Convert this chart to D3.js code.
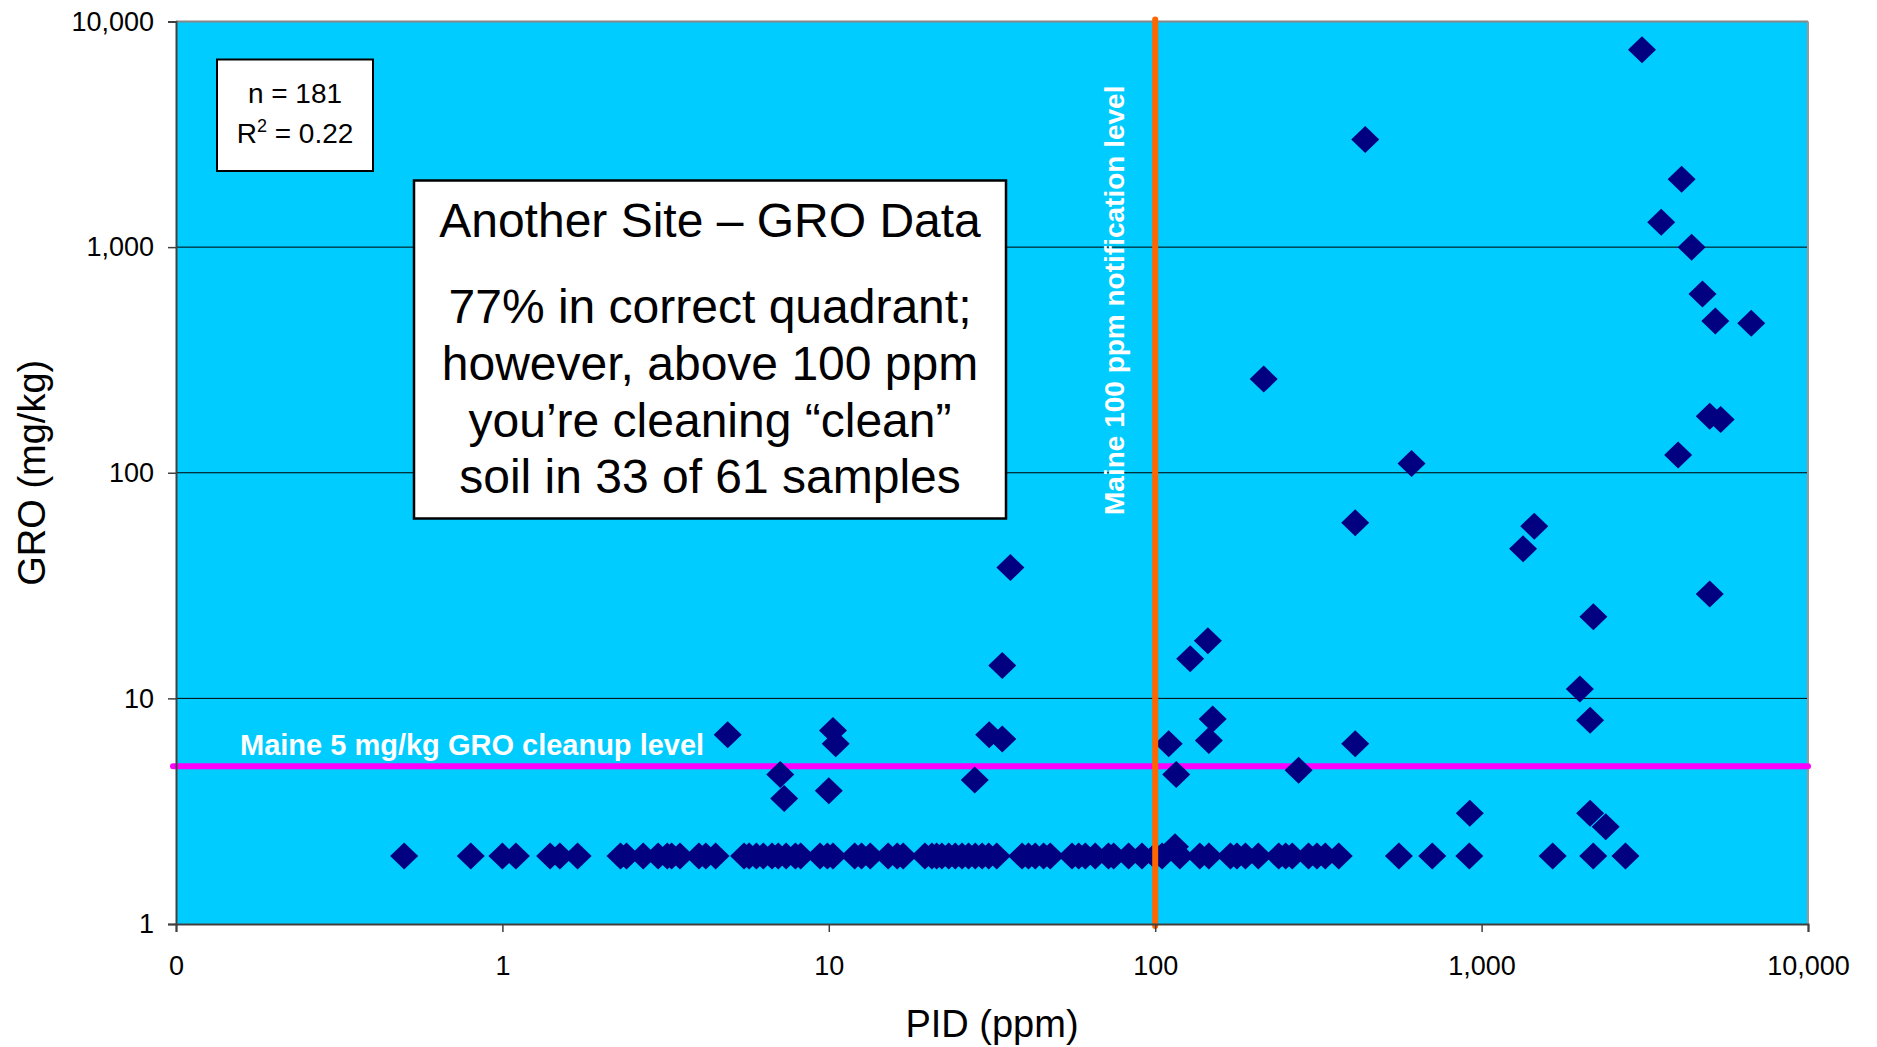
<!DOCTYPE html>
<html>
<head>
<meta charset="utf-8">
<script src="https://cdn.jsdelivr.net/npm/d3@7"></script>
<style>
  body { margin: 0; background: #fff; }
  svg { display: block; font-family: "Liberation Sans", Arial, sans-serif; }
</style>
</head>
<body>
<svg id="chart"></svg>
<script>
//  tick values and labels
const xTickVals = [0.1, 1, 10, 100, 1000, 10000];
const xTickLabels = ["0", "1", "10", "100", "1,000", "10,000"];
const yTickVals = [1, 10, 100, 1000, 10000];
const yTickLabels = ["1", "10", "100", "1,000", "10,000"];

//  reference levels
const pidNotify = 100;   // ppm
const groCleanup = 5;    // mg/kg

//  samples reported as non-detect (plotted at GRO = 2)
const ndLevel = 2;
const ndPid = [
  0.5, 0.8, 1.0, 1.1, 1.4, 1.5, 1.7, 2.3, 2.4, 2.7, 3.0, 3.2, 3.3, 3.5, 4.0, 4.2, 4.5,
  5.5, 5.7, 6.0, 6.3, 6.7, 7.0, 7.4, 7.9, 8.2, 9.4, 9.9, 10.3, 12.0, 12.6, 13.4,
  15.2, 16.2, 16.9, 19.7, 20.7, 21.4, 22.2, 23.3, 24.4, 25.6, 26.8, 28.1, 29.5,
  30.9, 32.7, 39.1, 40.9, 42.9, 45.5, 47.7,
  55.6, 58.3, 61.1, 65.5, 71.9, 74.6, 82.9, 91.1, 100, 105, 119, 137, 146, 170,
  178, 189, 207, 239, 251, 263, 295, 313, 332, 365,
  558, 706, 917, 1651, 2198, 2759
];

//  detected samples
const detPid = [
  3100, 440, 4100, 3550, 4400, 4750, 5200, 6700, 215, 610, 4000, 5000, 5400, 5000,
  410, 1450, 1340, 2200, 2000, 2150, 410, 275, 920, 2150, 2400,
  4.9, 7.1, 7.3, 10.3, 10.5, 10, 31, 34, 28, 110, 116, 150, 146, 115, 34, 36, 128, 145
];
const detGro = [
  7500, 3000, 2000, 1290, 1000, 620, 470, 460, 260, 110, 120, 178, 172, 29,
  60, 58, 46, 23, 11, 8, 6.3, 4.8, 3.1, 3.1, 2.7,
  6.9, 4.6, 3.6, 7.2, 6.3, 3.9, 6.9, 6.6, 4.35, 6.3, 4.6, 8.1, 6.5, 2.2, 14, 38, 15, 18
];

const statLines = ["n = 181", "R", " = 0.22"];
const noteTitle = "Another Site \u2013 GRO Data";
const noteLines = [
  "77% in correct quadrant;",
  "however, above 100 ppm",
  "you\u2019re cleaning \u201cclean\u201d",
  "soil in 33 of 61 samples"
];

function draw_chart() {
  const w = 1877, h = 1047;
  const margin = ({top: 21.5, right: 69, bottom: 123, left: 176});
  const plotW = w - margin.left - margin.right;
  const plotH = h - margin.top - margin.bottom;

  const svg = d3.select("#chart").attr("width", w).attr("height", h);

  const x = d3.scaleLog().domain([0.1, 10000]).range([margin.left, margin.left + plotW]);
  const y = d3.scaleLog().domain([1, 10000]).range([margin.top + plotH, margin.top]);

  //  plot background
  svg.append("rect")
     .attr("x", margin.left).attr("y", margin.top)
     .attr("width", plotW).attr("height", plotH)
     .attr("fill", "#00ccff");

  //  gridlines
  svg.selectAll("line.grid")
     .data(yTickVals.slice(1, -1)).enter().append("line")
     .attr("class", "grid")
     .attr("x1", margin.left).attr("x2", margin.left + plotW)
     .attr("y1", d => y(d)).attr("y2", d => y(d))
     .attr("stroke", "#000").attr("stroke-width", 1);

  //  frame: top and right light, left and bottom dark
  svg.append("line")
     .attr("x1", margin.left).attr("x2", margin.left + plotW)
     .attr("y1", margin.top).attr("y2", margin.top)
     .attr("stroke", "#888").attr("stroke-width", 2);
  svg.append("line")
     .attr("x1", margin.left + plotW).attr("x2", margin.left + plotW)
     .attr("y1", margin.top).attr("y2", margin.top + plotH)
     .attr("stroke", "#999").attr("stroke-width", 2);

  //  cleanup level (magenta)
  svg.append("line")
     .attr("x1", x(0.1) - 3).attr("x2", x(10000))
     .attr("y1", y(groCleanup)).attr("y2", y(groCleanup))
     .attr("stroke", "#ff00ff").attr("stroke-width", 6)
     .attr("stroke-linecap", "round");

  //  points
  const diamond = "M0,-13.5L14,0L0,13.5L-14,0Z";
  const pts = ndPid.map(p => [p, ndLevel]).concat(detPid.map((p, i) => [p, detGro[i]]));
  svg.selectAll("path.pt")
     .data(pts).enter().append("path")
     .attr("class", "pt")
     .attr("d", diamond)
     .attr("transform", d => "translate(" + x(d[0]) + "," + y(d[1]) + ")")
     .attr("fill", "#000080");

  //  notification level (orange)
  svg.append("line")
     .attr("x1", x(pidNotify)).attr("x2", x(pidNotify))
     .attr("y1", margin.top - 2).attr("y2", margin.top + plotH + 2)
     .attr("stroke", "#ff6600").attr("stroke-width", 6)
     .attr("stroke-linecap", "round");

  //  axes
  const xAxis = d3.axisBottom(x).tickValues(xTickVals)
    .tickFormat((d, i) => xTickLabels[i]).tickSize(8).tickPadding(24);
  const gx = svg.append("g")
     .attr("transform", "translate(0," + (margin.top + plotH) + ")")
     .call(xAxis);
  const yAxis = d3.axisLeft(y).tickValues(yTickVals)
    .tickFormat((d, i) => yTickLabels[i]).tickSize(8).tickPadding(14);
  const gy = svg.append("g")
     .attr("transform", "translate(" + margin.left + ",0)")
     .call(yAxis);

  [gx, gy].forEach(g => {
    g.select(".domain").attr("stroke", "#404040").attr("stroke-width", 2);
    g.selectAll(".tick line").attr("stroke", "#404040").attr("stroke-width", 1.5);
    g.selectAll(".tick text")
     .attr("fill", "#000").style("font-size", "27px")
     .style("font-family", "'Liberation Sans', Arial, sans-serif");
  });

  //  axis titles
  svg.append("text")
     .attr("x", margin.left + plotW / 2).attr("y", 1037)
     .attr("text-anchor", "middle")
     .style("font-size", "38px")
     .text("PID (ppm)");
  svg.append("text")
     .attr("transform", "translate(45," + (margin.top + plotH / 2) + ") rotate(-90)")
     .attr("text-anchor", "middle")
     .style("font-size", "38px")
     .text("GRO (mg/kg)");

  //  reference labels
  svg.append("text")
     .attr("x", 240).attr("y", 755)
     .attr("fill", "#fff").style("font-weight", "bold").style("font-size", "29px")
     .text("Maine 5 mg/kg GRO cleanup level");
  svg.append("text")
     .attr("transform", "translate(1124,515) rotate(-90)")
     .attr("fill", "#fff").style("font-weight", "bold").style("font-size", "28px")
     .text("Maine 100 ppm notification level");

  //  stats box
  svg.append("rect")
     .attr("x", 217).attr("y", 59.5).attr("width", 156).attr("height", 111.5)
     .attr("fill", "#fff").attr("stroke", "#000").attr("stroke-width", 2);
  svg.append("text")
     .attr("x", 295).attr("y", 103).attr("text-anchor", "middle")
     .style("font-size", "28px").text(statLines[0]);
  const r2 = svg.append("text")
     .attr("x", 295).attr("y", 143).attr("text-anchor", "middle")
     .style("font-size", "28px");
  r2.append("tspan").text(statLines[1]);
  r2.append("tspan").attr("dy", -11).style("font-size", "18px").text("2");
  r2.append("tspan").attr("dy", 11).text(statLines[2]);

  //  note box
  const boxX = 414, boxW = 592;
  svg.append("rect")
     .attr("x", boxX).attr("y", 180.5).attr("width", boxW).attr("height", 338)
     .attr("fill", "#fff").attr("stroke", "#000").attr("stroke-width", 2.5);
  svg.append("text")
     .attr("x", boxX + boxW / 2).attr("y", 236.5).attr("text-anchor", "middle")
     .style("font-size", "48px").text(noteTitle);
  svg.selectAll("text.note")
     .data(noteLines).enter().append("text")
     .attr("class", "note")
     .attr("x", boxX + boxW / 2)
     .attr("y", (_, i) => 323.3 + i * 56.7)
     .attr("text-anchor", "middle")
     .style("font-size", "48px")
     .text(d => d);
}

draw_chart();
</script>
</body>
</html>
